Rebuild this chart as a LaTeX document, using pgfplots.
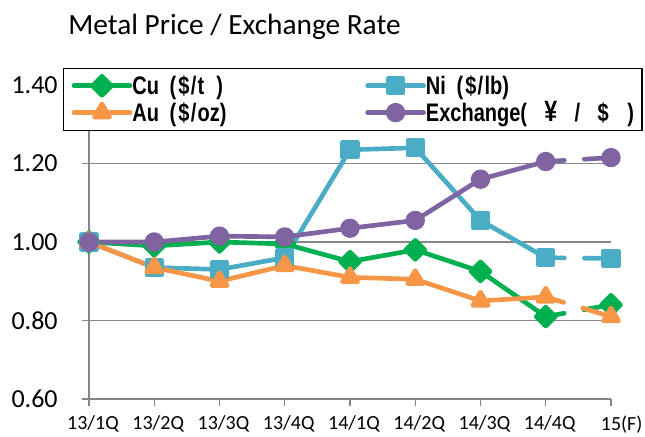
\documentclass[border=0pt]{standalone}
\usepackage{fontspec}
\setmainfont{Carlito}
\newfontfamily\legfont[FakeStretch=0.79]{Liberation Sans Bold}
\usepackage{pgfplots}
\pgfplotsset{compat=1.18}
\definecolor{cucol}{HTML}{00B050}
\definecolor{nicol}{HTML}{4BACC6}
\definecolor{aucol}{HTML}{F79646}
\definecolor{excol}{HTML}{8064A2}
\definecolor{axgray}{HTML}{868686}
\begin{document}
\begin{tikzpicture}
\begin{axis}[
  at={(66.75pt,27.75pt)}, anchor=south west,
  scale only axis, width=391.5pt, height=235.5pt,
  xmin=0, xmax=8, ymin=0.6, ymax=1.4,
  axis lines=left, axis line style={-, axgray, line width=1.1pt},
  xtick={0,1,2,3,4,5,6,7,8},
  xticklabels={13/1Q,13/2Q,13/3Q,13/4Q,14/1Q,14/2Q,14/3Q,14/4Q,\hspace{10pt}15(F)},
  ytick={0.6,0.8,1.0,1.2,1.4},
  ymajorgrids, grid style={axgray, line width=1.2pt},
  tick align=outside, major tick length=5pt,
  tick style={axgray, line width=1pt},
  xticklabel style={font=\fontsize{15}{18}\selectfont, xshift=3pt, yshift=-4pt},
  yticklabel style={font=\fontsize{19.5}{22}\selectfont, xshift=-15pt},
  /pgf/number format/assume math mode=true,
  yticklabel={\pgfmathprintnumber[fixed,fixed zerofill,precision=2]{\tick}},
  clip=false,
  legend columns=2,
  legend style={at={(-0.0498,1.054)}, anchor=north west, draw=black, line width=1pt,
    fill=white, font=\legfont\fontsize{19}{21}\selectfont, inner xsep=6pt, inner ysep=3pt,
    nodes={inner xsep=0pt},
    /tikz/every even column/.append style={column sep=104pt}},
  legend cell align=left,
  legend image code/.code={\draw[mark repeat=2,mark phase=2, line cap=round] plot coordinates {(0pt,0pt) (21pt,0pt) (42pt,0pt)};},
  every axis plot/.append style={line width=3.5pt, line cap=round, line join=round},
]
% Cu
\addplot[cucol, mark=square*, mark size=5pt, mark options={rotate=45, solid}] coordinates {
 (0,1.00) (1,0.99) (2,1.00) (3,0.995) (4,0.95) (5,0.98) (6,0.925) (7,0.81)};
\addlegendentry{Cu\hspace{8pt}(\hspace{1.5pt}\$\hspace{1pt}/\hspace{1pt}t\hspace{9pt})}
\addplot[cucol, forget plot, dash pattern=on 14pt off 15pt on 30pt off 1pt, mark=square*, mark size=5pt, mark indices={2}, mark options={rotate=45, solid}] coordinates {(7,0.81) (8,0.84)};
% Ni
\addplot[nicol, mark=square*, mark size=5.5pt, mark options={solid}] coordinates {
 (0,1.00) (1,0.935) (2,0.93) (3,0.96) (4,1.235) (5,1.24) (6,1.055) (7,0.96)};
\addlegendentry{Ni\hspace{8pt}(\hspace{1.5pt}\$\hspace{1pt}/\hspace{1pt}lb)}
\addplot[nicol, forget plot, dash pattern=on 14pt off 15pt on 30pt off 1pt, mark=square*, mark size=5.5pt, mark indices={2}, mark options={solid}] coordinates {(7,0.96) (8,0.958)};
% Au
\addplot[aucol, mark=triangle*, mark size=6.5pt, mark options={solid}] coordinates {
 (0,1.00) (1,0.935) (2,0.90) (3,0.94) (4,0.91) (5,0.905) (6,0.85) (7,0.86)};
\addlegendentry{Au\hspace{8pt}(\hspace{1.5pt}\$\hspace{1pt}/\hspace{1pt}oz)}
\addplot[aucol, forget plot, dash pattern=on 14pt off 15pt on 30pt off 1pt, mark=triangle*, mark size=6.5pt, mark indices={2}, mark options={solid}] coordinates {(7,0.86) (8,0.81)};
% Exchange
\addplot[excol, mark=*, mark size=5.5pt, mark options={solid}] coordinates {
 (0,1.00) (1,1.00) (2,1.015) (3,1.013) (4,1.035) (5,1.055) (6,1.16) (7,1.205)};
\addlegendentry{Exchange(\hspace{13pt}{\fontsize{22}{22}\selectfont ¥}\hspace{13pt}/\hspace{13pt}\$\hspace{14pt})}
\addplot[excol, forget plot, dash pattern=on 14pt off 15pt on 30pt off 1pt, mark=*, mark size=5.5pt, mark indices={2}, mark options={solid}] coordinates {(7,1.205) (8,1.215)};
\end{axis}
\node[anchor=base west, inner sep=0pt, font=\fontsize{22}{26}\selectfont] at (51pt,300.75pt) {Metal Price / Exchange Rate};
\pgfresetboundingbox
\useasboundingbox (0,0) rectangle (483.75pt,327pt);
\end{tikzpicture}
\end{document}
